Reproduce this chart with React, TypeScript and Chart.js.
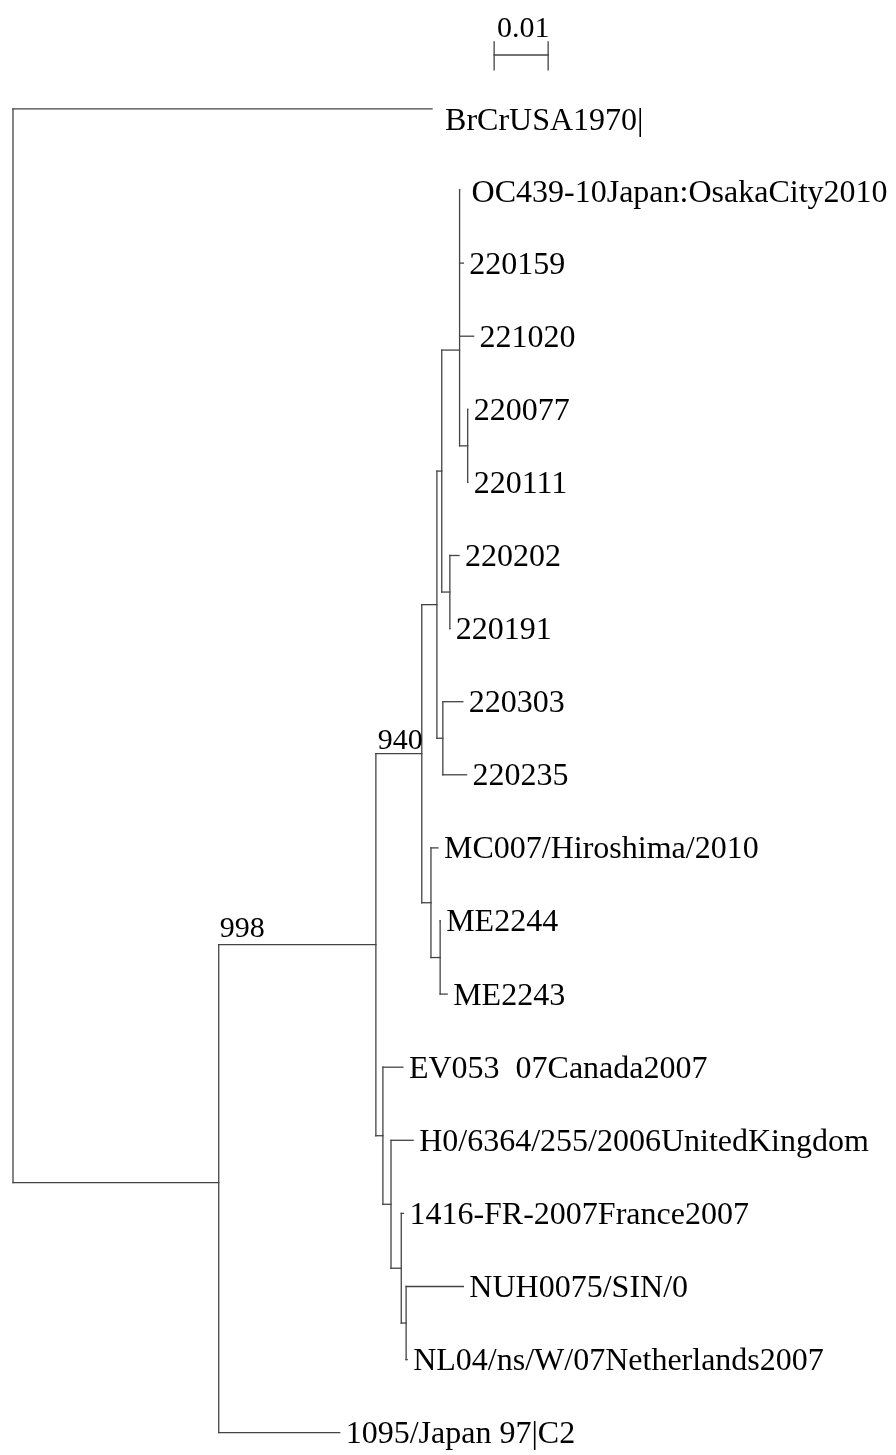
import React, { useEffect, useRef } from "react";
import { Chart, registerables } from "chart.js";

Chart.register(...registerables);

// ---- Tree data (branch lengths in substitutions/site) ----
const nodeIds = [
  "root", "BrCrUSA1970|", "n998", "n376", "n940", "n437", "nA", "nB",
  "OC439-10Japan:OsakaCity2010", "220159", "221020", "nC", "220077", "220111",
  "n450", "220202", "220191", "n443", "220303", "220235",
  "n431", "MC007/Hiroshima/2010", "n440", "ME2244", "ME2243",
  "n383", "EV053  07Canada2007", "n391", "H0/6364/255/2006UnitedKingdom",
  "n401", "1416-FR-2007France2007", "n406", "NUH0075/SIN/0",
  "NL04/ns/W/07Netherlands2007", "1095/Japan 97|C2",
];
const nodeParents = [
  null, "root", "root", "n998", "n376", "n940", "n437", "nA",
  "nB", "nB", "nB", "nB", "nC", "nC",
  "nA", "n450", "n450", "n437", "n443", "n443",
  "n940", "n431", "n431", "n440", "n440",
  "n376", "n383", "n383", "n391",
  "n391", "n401", "n401", "n406",
  "n406", "n998",
];
const branchLengths = [
  0, 0.0776, 0.0381, 0.0291, 0.0085, 0.0028, 0.0009, 0.0033,
  0, 0.0007, 0.0026, 0.0015, 0, 0,
  0.0015, 0.0017, 0, 0.0011, 0.0037, 0.0044,
  0.0017, 0.0013, 0.0017, 0, 0.0013,
  0.0013, 0.0037, 0.0015, 0.0041,
  0.0019, 0.0004, 0.0009, 0.0106,
  0.0002, 0.0224,
];

// Tip order (rows, top to bottom)
const tipNames = [
  "BrCrUSA1970|", "OC439-10Japan:OsakaCity2010", "220159", "221020", "220077",
  "220111", "220202", "220191", "220303", "220235", "MC007/Hiroshima/2010",
  "ME2244", "ME2243", "EV053  07Canada2007", "H0/6364/255/2006UnitedKingdom",
  "1416-FR-2007France2007", "NUH0075/SIN/0", "NL04/ns/W/07Netherlands2007",
  "1095/Japan 97|C2",
];
const tipRows = [-0.11, 1, 2, 3, 4, 5, 6, 7, 8, 9, 10, 11, 12, 13, 14, 15, 16, 17, 18];
const rowOverrides: Record<string, number> = { nB: 3.19, n998: 14.58 };

// Bootstrap support values (node the value belongs to)
const supportNodes = ["n376", "n940"];
const supportValues = ["998", "940"];

// Scale bar
const scaleBarLength = 0.01;
const scaleBarLabel = "0.01";

// ---- Layout / style constants ----
const X_MIN = -13 / 5400;
const X_MAX = (896 - 13) / 5400;
const Y_MIN = 1 - 190 / 73.1;
const Y_MAX = 1 + (1455 - 190) / 73.1;
const SCALE_X0 = 0.0891;
const SCALE_ROW = -0.847;
const SCALE_TICK_TOP = -1.025;
const SCALE_TICK_BOTTOM = -0.642;
const LINE_COLOR = "#444";
const LINE_WIDTH = 1.3;
const LABEL_FONT = '32px "Liberation Serif", "Times New Roman", serif';
const SMALL_FONT = '30px "Liberation Serif", "Times New Roman", serif';
const labelNudges: Record<string, [number, number]> = {
  "BrCrUSA1970|": [7, 11],
  "OC439-10Japan:OsakaCity2010": [6, 2],
};

function computeLayout() {
  const xs: Record<string, number> = {};
  const ys: Record<string, number> = {};
  const parentOf: Record<string, string> = {};
  const children: Record<string, string[]> = {};
  nodeIds.forEach((id, i) => {
    const p = nodeParents[i];
    if (p) {
      (children[p] = children[p] || []).push(id);
      parentOf[id] = p;
    }
    xs[id] = p ? xs[p] + branchLengths[i] : 0;
  });
  tipNames.forEach((n, i) => (ys[n] = tipRows[i]));
  const getY = (id: string): number => {
    if (ys[id] !== undefined) return ys[id];
    const c = children[id].map(getY);
    const v = rowOverrides[id] !== undefined ? rowOverrides[id] : (Math.min(...c) + Math.max(...c)) / 2;
    ys[id] = v;
    return v;
  };
  getY("root");
  return { xs, ys, children, parentOf };
}

export default function App() {
  const ref = useRef<HTMLCanvasElement>(null);

  useEffect(() => {
    document.body.style.margin = "0";
    const { xs, ys, children, parentOf } = computeLayout();
    const segs: { x: number; y: number }[][] = [];
    nodeIds.forEach((id, i) => {
      const p = nodeParents[i];
      if (p) segs.push([{ x: xs[p], y: ys[id] }, { x: xs[id], y: ys[id] }]);
      const c = children[id];
      if (c) {
        const cy = c.map((k) => ys[k]);
        segs.push([{ x: xs[id], y: Math.min(...cy) }, { x: xs[id], y: Math.max(...cy) }]);
      }
    });
    // scale bar
    segs.push([{ x: SCALE_X0, y: SCALE_ROW }, { x: SCALE_X0 + scaleBarLength, y: SCALE_ROW }]);
    segs.push([{ x: SCALE_X0, y: SCALE_TICK_TOP }, { x: SCALE_X0, y: SCALE_TICK_BOTTOM }]);
    segs.push([{ x: SCALE_X0 + scaleBarLength, y: SCALE_TICK_TOP }, { x: SCALE_X0 + scaleBarLength, y: SCALE_TICK_BOTTOM }]);

    const labelPlugin = {
      id: "treeLabels",
      afterDatasetsDraw(chart: any) {
        const ctx = chart.ctx;
        const sx = chart.scales.x;
        const sy = chart.scales.y;
        ctx.save();
        ctx.fillStyle = "#000";
        ctx.font = LABEL_FONT;
        ctx.textAlign = "left";
        ctx.textBaseline = "middle";
        tipNames.forEach((n) => {
          const nd = labelNudges[n] || [0, 0];
          ctx.fillText(n, sx.getPixelForValue(xs[n]) + 6 + nd[0], sy.getPixelForValue(ys[n]) + 2 + nd[1]);
        });
        ctx.font = SMALL_FONT;
        ctx.textBaseline = "alphabetic";
        supportNodes.forEach((id, i) => {
          const py = sy.getPixelForValue(ys[id]);
          if (i === 0) {
            // long branch: value placed at the start of the branch
            ctx.textAlign = "left";
            ctx.fillText(supportValues[i], sx.getPixelForValue(xs[parentOf[id]]) + 1, py - 8);
          } else {
            ctx.textAlign = "right";
            ctx.fillText(supportValues[i], sx.getPixelForValue(xs[id]) + 1, py - 5);
          }
        });
        ctx.textAlign = "center";
        ctx.fillText(
          scaleBarLabel,
          sx.getPixelForValue(SCALE_X0 + scaleBarLength / 2) + 2,
          sy.getPixelForValue(SCALE_ROW) - 18
        );
        ctx.restore();
      },
    };

    const chart = new Chart(ref.current!, {
      type: "scatter",
      data: {
        datasets: segs.map((s) => ({
          data: s,
          showLine: true,
          borderColor: LINE_COLOR,
          borderWidth: LINE_WIDTH,
          borderCapStyle: "square" as const,
          pointRadius: 0,
          pointHoverRadius: 0,
          fill: false,
        })),
      },
      options: {
        animation: false,
        responsive: false,
        devicePixelRatio: 1,
        layout: { padding: 0 },
        plugins: { legend: { display: false }, tooltip: { enabled: false } },
        scales: {
          x: { type: "linear", display: false, min: X_MIN, max: X_MAX },
          y: { type: "linear", display: false, min: Y_MIN, max: Y_MAX, reverse: true },
        },
      },
      plugins: [labelPlugin],
    });
    return () => chart.destroy();
  }, []);

  return (
    <div style={{ position: "absolute", left: 0, top: 0, width: 896, height: 1455, background: "#fff" }}>
      <canvas ref={ref} width={896} height={1455} style={{ display: "block" }} />
    </div>
  );
}
